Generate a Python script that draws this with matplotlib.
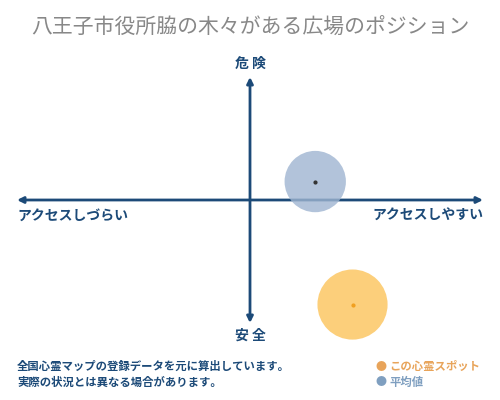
import matplotlib
matplotlib.use("Agg")
import matplotlib.pyplot as plt

plt.rcParams['font.family'] = ['Noto Sans CJK JP', 'DejaVu Sans']

# データ (横: アクセス -1..1, 縦: 危険度 -1..1)
title = "八王子市役所脇の木々がある広場のポジション"
names = ["この心霊スポット", "平均値"]
access = [0.44, 0.28]
danger = [-0.85, 0.15]
fill_colors = ["#fcc35a", "#9fb5d1"]
dot_colors = ["#f0a020", "#333333"]
text_colors = ["#e8a45a", "#7f9fc0"]
sizes = [2550, 1950]

navy = "#1c4a78"

fig = plt.figure(figsize=(5, 4), dpi=100)
ax = fig.add_axes([0.034, 0.1925, 0.932, 0.615])
ax.set_xlim(-1, 1)
ax.set_ylim(-1, 1)
ax.axis('off')

# 軸の矢印
arrow = dict(arrowstyle='<|-|>', color=navy, lw=2, mutation_scale=9, shrinkA=0, shrinkB=0)
ax.annotate('', xy=(1, 0), xytext=(-1, 0), arrowprops=arrow)
ax.annotate('', xy=(0, 1), xytext=(0, -1), arrowprops=arrow)

# 円
for x, y, s, fc, dc in zip(access, danger, sizes, fill_colors, dot_colors):
    ax.scatter(x, y, s=s, color=fc, alpha=0.8, edgecolors='none', zorder=3, clip_on=False)
    ax.scatter(x, y, s=4, color=dc, zorder=4, clip_on=False)

# 軸ラベル
lab = dict(color=navy, fontsize=10, fontweight='bold')
ax.text(0, 1.05, "危 険", ha='center', va='bottom', **lab)
ax.text(0, -1.05, "安 全", ha='center', va='top', **lab)
ax.text(-1, -0.07, "アクセスしづらい", ha='left', va='top', **lab)
ax.text(1, -0.07, "アクセスしやすい", ha='right', va='top', **lab)

# タイトル
fig.text(0.5, 0.93, title, ha='center', va='center', fontsize=15, color='#888888')

# 注記
fig.text(0.034, 0.083, "全国心霊マップの登録データを元に算出しています。", fontsize=8.2,
         color=navy, fontweight='bold', va='center')
fig.text(0.034, 0.045, "実際の状況とは異なる場合があります。", fontsize=8.2,
         color=navy, fontweight='bold', va='center')

# 凡例
for i, (nm, tc) in enumerate(zip(names, text_colors)):
    yy = 0.083 - i * 0.038
    fig.text(0.763, yy, "●", fontsize=8, color=tc, ha='center', va='center')
    fig.text(0.778, yy, nm, fontsize=8.2, color=tc, fontweight='bold', va='center')

fig.savefig("out.png", dpi=100)
